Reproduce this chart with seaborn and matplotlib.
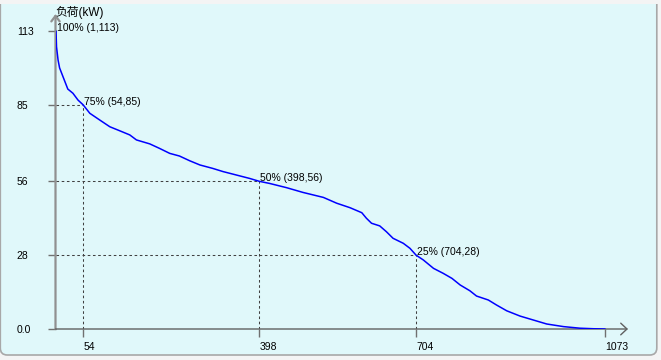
import seaborn as sns
import matplotlib.pyplot as plt
from matplotlib.patches import FancyBboxPatch, Rectangle

# load duration curve
hours = [1, 2, 5, 8, 13, 18, 24, 34, 44, 54,
         67, 86, 106, 125, 145, 158, 184, 203, 223, 242,
         262, 282, 307, 327, 353, 379, 398, 418, 451, 483,
         523, 549, 575, 598, 607, 617, 633, 646, 659, 679,
         692, 704, 718, 738, 757, 774, 790, 809, 822, 845,
         861, 881, 907, 933, 959, 992, 1024, 1050, 1073]
load_kw = [113, 107, 102, 99, 96.5, 94, 91, 89.4, 86.8, 85,
           81.8, 79.3, 76.7, 75.2, 73.6, 71.7, 70.2, 68.5, 66.6, 65.6,
           63.8, 62.2, 60.9, 59.7, 58.4, 57.1, 56, 55.2, 53.6, 51.8,
           49.9, 47.7, 46, 44.1, 42, 40.1, 39.1, 36.9, 34.4, 32.5,
           30.6, 28, 26.2, 23, 21.1, 19.2, 16.7, 14.5, 12.5, 11,
           9.1, 6.9, 4.9, 3.4, 1.9, 0.9, 0.3, 0.1, 0.0]

mark_pct = ["100%", "75%", "50%", "25%"]
mark_hours = [1, 54, 398, 704]
mark_load = [113, 85, 56, 28]

y_ticks = [0, 28, 56, 85, 113]
y_labels = ["0.0", "28", "56", "85", "113"]
x_ticks = [54, 398, 704, 1073]
x_labels = ["54", "398", "704", "1073"]

W, H, DPI = 661, 360, 100
BG = "#e0f8fa"
FS = 7.5
TXT = "#000000"

sns.set_style("white")
plt.rcParams["font.family"] = ["Liberation Sans", "Noto Sans CJK SC"]

fig = plt.figure(figsize=(W / DPI, H / DPI), dpi=DPI, facecolor="#f4f4f4")

# rounded panel behind the chart
panel = FancyBboxPatch((0.3 / DPI, 5 / DPI), 656.5 / DPI, 3.9, boxstyle="round,pad=0,rounding_size=0.07",
                       transform=fig.dpi_scale_trans, facecolor=BG, edgecolor="#a8a8a8", lw=1.2, zorder=-2)
fig.patches.append(panel)
fig.patches.append(Rectangle((0, (H - 3.5) / DPI), W / DPI, 0.1, transform=fig.dpi_scale_trans,
                             facecolor="#f4f4f4", edgecolor="none", zorder=-1))

x0, x1 = 55.5, 628.0
y0, y1 = 329.0, 14.0
ax = fig.add_axes([x0 / W, (H - y0) / H, (x1 - x0) / W, (y0 - y1) / H])
ax.patch.set_alpha(0)
ax.set_xlim(0, (x1 - x0) / 0.5122)
ax.set_ylim(0, (y0 - y1) / 2.637)
for s in ax.spines.values():
    s.set_visible(False)

# axes with open arrow heads
ax.annotate("", xy=(0, 1), xytext=(0, 0), xycoords="axes fraction",
            arrowprops=dict(arrowstyle="->,head_length=0.4,head_width=0.3", color="#909090",
                            lw=1.6, shrinkA=0, shrinkB=0))
ax.annotate("", xy=(1, 0), xytext=(0, 0), xycoords="axes fraction",
            arrowprops=dict(arrowstyle="->,head_length=0.45,head_width=0.42", color="#606060",
                            lw=1.0, shrinkA=0, shrinkB=0))

# guide lines to the quartile points
ax.hlines(mark_load[1:], 0, mark_hours[1:], colors="#404040", lw=0.75, linestyles=(0, (2.5, 2.5)))
ax.vlines(mark_hours[1:], 0, mark_load[1:], colors="#404040", lw=0.75, linestyles=(0, (2.5, 2.5)))

sns.lineplot(x=hours, y=load_kw, color="#0000ff", lw=1.1, ax=ax, zorder=5)

for p, h, l in zip(mark_pct, mark_hours, mark_load):
    ax.annotate("{} ({},{})".format(p, h, l), xy=(h, l), xytext=(0.8, 2.2), textcoords="offset points",
                ha="left", va="center", fontsize=FS, color=TXT, zorder=6)

ax.set_yticks(y_ticks, y_labels)
ax.set_xticks(x_ticks, x_labels)
ax.tick_params(axis="y", left=True, length=5.8, width=1, color="#707070", pad=22, labelsize=FS, labelcolor=TXT)
ax.tick_params(axis="x", bottom=True, length=5.8, width=1, color="#707070", pad=3.6, labelsize=FS, labelcolor=TXT)
for lbl in ax.get_yticklabels():
    lbl.set_ha("left")
for lbl in ax.get_xticklabels():
    lbl.set_ha("left")
ax.grid(False)

fig.text(55 / W, (H - 12.5) / H, "负荷(kW)", fontsize=8.5, ha="left", va="center", color=TXT)

fig.savefig("out.png", dpi=DPI, facecolor=fig.get_facecolor())
